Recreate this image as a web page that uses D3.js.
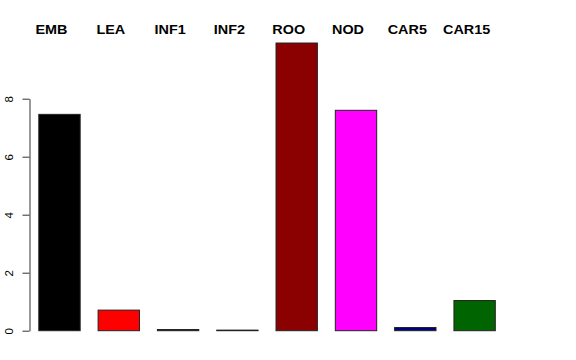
<!DOCTYPE html>
<html>
<head>
<meta charset="utf-8">
<script src="https://cdn.jsdelivr.net/npm/d3@7"></script>
<style>
  body { margin: 0; background: #fff; }
  svg { display: block; font-family: "Liberation Sans", Arial, sans-serif; }
</style>
</head>
<body>
<svg id="chart"></svg>
<script>
// tissue categories and values
const categories = ["EMB", "LEA", "INF1", "INF2", "ROO", "NOD", "CAR5", "CAR15"];
const values = [7.46, 0.71, 0.04, 0.02, 9.92, 7.6, 0.11, 1.04];
const colors = ["#000000", "#ff0000", "#0d1a0d", "#bebebe", "#8b0000", "#ff00ff", "#000080", "#006400"];
const yTicks = [0, 2, 4, 6, 8];

const width = 576, height = 360;

const svg = d3.select("#chart")
    .attr("width", width)
    .attr("height", height);

const data = categories.map((c, i) => ({ name: c, value: values[i], color: colors[i] }));

const xScale = d3.scaleBand()
    .domain(categories)
    .range([38.3, 495.8])
    .paddingInner(0.2857)
    .paddingOuter(0);

const yScale = d3.scaleLinear()
    .domain([0, 8])
    .range([330.7, 98.7]);

// bars
svg.append("g")
    .selectAll("rect")
    .data(data)
    .join("rect")
    .attr("x", d => xScale(d.name) + 0.5)
    .attr("width", xScale.bandwidth() - 1)
    .attr("y", d => yScale(d.value))
    .attr("height", d => Math.max(yScale(0) - yScale(d.value), 0.5))
    .style("fill", d => d.color)
    .style("stroke", "#222")
    .style("stroke-width", 1);

// labels over the plot
svg.append("g")
    .selectAll("text")
    .data(data)
    .join("text")
    .attr("transform", d => `translate(${xScale(d.name) + xScale.bandwidth() / 2 - 8},34) scale(1.2,1)`)
    .attr("text-anchor", "middle")
    .attr("font-size", "12px")
    .attr("font-weight", "bold")
    .attr("fill", "#000")
    .text(d => d.name);

// y axis
const yAxis = d3.axisLeft(yScale)
    .tickValues(yTicks)
    .tickSizeOuter(0)
    .tickSizeInner(7)
    .tickFormat(d => d);

const yAxisG = svg.append("g")
    .attr("transform", "translate(29.5,0)")
    .call(yAxis);

yAxisG.select(".domain").attr("stroke", "#333");
yAxisG.selectAll(".tick line").attr("stroke", "#333");
yAxisG.selectAll(".tick text")
    .attr("x", null)
    .attr("dy", null)
    .attr("transform", "translate(-17,0) rotate(-90)")
    .attr("text-anchor", "middle")
    .attr("font-size", "11.5px")
    .attr("font-family", "Liberation Sans, Arial, sans-serif")
    .attr("fill", "#000");
</script>
</body>
</html>
